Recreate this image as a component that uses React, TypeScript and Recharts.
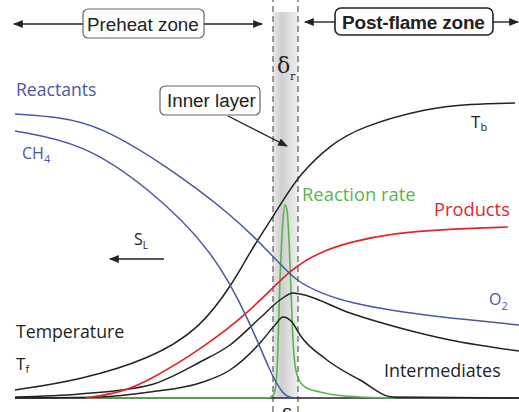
import React from 'react';
import { ComposedChart, Line, XAxis, YAxis, ReferenceArea, ReferenceLine } from 'recharts';

// x: distance through the flame, y: height above the baseline (both in chart units)
const reactants = [
  { x: 15, y: 298 }, { x: 60, y: 295 }, { x: 100, y: 286 }, { x: 167, y: 246 },
  { x: 233, y: 196 }, { x: 262, y: 167 }, { x: 285, y: 143 },
  { x: 297, y: 131 }, { x: 320, y: 119 }, { x: 350, y: 109 }, { x: 400, y: 100 },
  { x: 450, y: 94 }, { x: 519, y: 87 },
];
const ch4 = [
  { x: 15, y: 281 }, { x: 83, y: 269 }, { x: 150, y: 223 }, { x: 213, y: 162 },
  { x: 250, y: 90 }, { x: 270, y: 40 }, { x: 283, y: 17 }, { x: 292, y: 14 }, { x: 296, y: 14 },
];
const temperature = [
  { x: 15, y: 22 }, { x: 80, y: 32 }, { x: 150, y: 53 }, { x: 200, y: 83 },
  { x: 233, y: 129 }, { x: 250, y: 160 }, { x: 265, y: 183 }, { x: 282, y: 210 },
  { x: 300, y: 238 }, { x: 330, y: 267 }, { x: 360, y: 285 }, { x: 427, y: 304 },
  { x: 470, y: 308 }, { x: 515, y: 309 },
];
const products = [
  { x: 85, y: 14 }, { x: 120, y: 19 }, { x: 150, y: 32 }, { x: 200, y: 62 },
  { x: 250, y: 100 }, { x: 290, y: 143 }, { x: 320, y: 160 }, { x: 350, y: 170 },
  { x: 393, y: 179 }, { x: 450, y: 183 }, { x: 508, y: 185 },
];
const intermediateHigh = [
  { x: 15, y: 15 }, { x: 80, y: 18 }, { x: 150, y: 27 }, { x: 200, y: 50 },
  { x: 230, y: 67 }, { x: 260, y: 94 }, { x: 280, y: 112 }, { x: 293, y: 119 },
  { x: 300, y: 118 }, { x: 350, y: 99 }, { x: 400, y: 84 }, { x: 450, y: 72 },
  { x: 519, y: 61 },
];
const intermediateLow = [
  { x: 15, y: 14 }, { x: 100, y: 15 }, { x: 150, y: 20 }, { x: 200, y: 29 },
  { x: 230, y: 42 }, { x: 260, y: 69 }, { x: 275, y: 87 }, { x: 283, y: 95 },
  { x: 292, y: 90 }, { x: 300, y: 77 }, { x: 327, y: 52 }, { x: 360, y: 32 },
  { x: 393, y: 15 }, { x: 519, y: 14 },
];
const reactionRate = [
  { x: 87, y: 14 }, { x: 268, y: 14 }, { x: 274, y: 18 }, { x: 277, y: 42 },
  { x: 280, y: 132 }, { x: 283, y: 192 }, { x: 285, y: 207 }, { x: 287, y: 202 },
  { x: 289, y: 172 }, { x: 291, y: 122 }, { x: 293, y: 72 }, { x: 295, y: 47 },
  { x: 299, y: 32 }, { x: 305, y: 25 }, { x: 320, y: 20 }, { x: 345, y: 16 },
  { x: 395, y: 14 },
];

const innerLayer = { from: 273, to: 298 };

const BLUE = '#4b55a5';
const RED = '#e3262b';
const GREEN = '#55b64f';
const DARK = '#222';
const LABEL_FONT = '"Open Sans", sans-serif';
const BOX_FONT = '"Liberation Sans", Arial, sans-serif';

const Arrow = ({ x1, y1, x2, y2 }: { x1: number; y1: number; x2: number; y2: number }) => (
  <line x1={x1} y1={y1} x2={x2} y2={y2} stroke={DARK} strokeWidth={1.4} markerEnd="url(#arrowHead)" />
);

const Annotations = () => (
  <svg width={519} height={412} style={{ position: 'absolute', left: 0, top: 0, pointerEvents: 'none' }}>
    <defs>
      <marker id="arrowHead" viewBox="0 0 10 10" refX="9" refY="5" markerWidth="7" markerHeight="7" orient="auto">
        <path d="M0,1 L10,5 L0,9 Z" fill={DARK} />
      </marker>
    </defs>
    {/* zone headers */}
    <Arrow x1={83} y1={24} x2={14} y2={24} />
    <Arrow x1={203} y1={24} x2={262} y2={24} />
    <rect x={83} y={9} width={121} height={29} rx={5} fill="#fff" stroke="#666" strokeWidth={1.2} />
    <text x={87} y={31} fontFamily={BOX_FONT} fontSize={18.8} fill={DARK}>Preheat zone</text>

    <Arrow x1={336} y1={22} x2={305} y2={22} />
    <Arrow x1={493} y1={22} x2={518} y2={22} />
    <rect x={335} y={8} width={158} height={27} rx={6} fill="#fff" stroke={DARK} strokeWidth={1.6} />
    <text x={342} y={29} fontFamily={BOX_FONT} fontSize={19} fontWeight="bold" fill={DARK} letterSpacing={-0.2}>Post-flame zone</text>

    <text x={277} y={73} fontFamily="'DejaVu Serif', serif" fontSize={22} fill={DARK}>δ</text>
    <text x={290} y={80} fontFamily="'DejaVu Serif', serif" fontSize={11} fill={DARK}>r</text>

    <rect x={160} y={86} width={100} height={29} rx={5} fill="#fff" stroke="#666" strokeWidth={1.2} />
    <text x={167} y={107} fontFamily={BOX_FONT} fontSize={18.8} fill={DARK}>Inner layer</text>
    <Arrow x1={228} y1={116} x2={287} y2={146} />

    <text x={16} y={96} fontFamily={LABEL_FONT} fontSize={17.6} fill={BLUE}>Reactants</text>
    <text x={22} y={159} fontFamily={LABEL_FONT} fontSize={16} fill={BLUE}>CH<tspan fontSize={11} dy={4}>4</tspan></text>
    <text x={471} y={128} fontFamily={LABEL_FONT} fontSize={17} fill={DARK}>T<tspan fontSize={11} dy={3}>b</tspan></text>
    <text x={302} y={201} fontFamily={LABEL_FONT} fontSize={18.4} fill={GREEN}>Reaction rate</text>
    <text x={434} y={216} fontFamily={LABEL_FONT} fontSize={18.3} fill={RED}>Products</text>

    <text x={134} y={245} fontFamily={LABEL_FONT} fontSize={16} fill={DARK}>S<tspan fontSize={10} dy={4}>L</tspan></text>
    <Arrow x1={164} y1={259} x2={110} y2={259} />

    <text x={489} y={305} fontFamily={LABEL_FONT} fontSize={16} fill={BLUE}>O<tspan fontSize={11} dy={5}>2</tspan></text>
    <text x={16} y={338} fontFamily={LABEL_FONT} fontSize={17.7} fill={DARK}>Temperature</text>
    <text x={16} y={370} fontFamily={LABEL_FONT} fontSize={17} fill={DARK}>T<tspan fontSize={11} dy={3}>f</tspan></text>
    <text x={384} y={377} fontFamily={LABEL_FONT} fontSize={17.9} fill={DARK}>Intermediates</text>
    <text x={281} y={424} fontFamily="'DejaVu Serif', serif" fontSize={20} fill={DARK}>δ</text>
  </svg>
);

const curve = (
  data: { x: number; y: number }[],
  stroke: string,
  key: string,
  width = 1.5,
  type: 'monotone' | 'basis' = 'basis',
) => (
  <Line
    key={key}
    data={data}
    dataKey="y"
    type={type}
    stroke={stroke}
    strokeWidth={width}
    dot={false}
    activeDot={false}
    isAnimationActive={false}
  />
);

export default function App() {
  return (
    <div style={{ position: 'absolute', left: 0, top: 0, width: 519, height: 412, background: '#fff' }}>
      <ComposedChart width={519} height={412} margin={{ top: 0, right: 0, bottom: 0, left: 0 }}>
        <defs>
          <linearGradient id="bandFill" x1="0" y1="0" x2="1" y2="0">
            <stop offset="0%" stopColor="#e6e6e6" />
            <stop offset="35%" stopColor="#cfcfcf" />
            <stop offset="100%" stopColor="#efefef" />
          </linearGradient>
        </defs>
        <XAxis type="number" dataKey="x" domain={[0, 519]} hide allowDuplicatedCategory={false} />
        <YAxis type="number" domain={[0, 412]} hide />
        <ReferenceArea x1={innerLayer.from} x2={innerLayer.to} y1={14} y2={400} fill="url(#bandFill)" fillOpacity={1} stroke="none" />
        <ReferenceLine x={innerLayer.from} stroke="#666" strokeDasharray="6 4" strokeWidth={1.3} />
        <ReferenceLine x={innerLayer.to} stroke="#666" strokeDasharray="6 4" strokeWidth={1.3} />
        <ReferenceLine segment={[{ x: 15, y: 14 }, { x: 519, y: 14 }]} stroke={DARK} strokeWidth={1.6} />
        {curve(reactionRate, GREEN, 'rate', 1.6, 'monotone')}
        {curve(intermediateLow, DARK, 'intLow', 1.5, 'monotone')}
        {curve(intermediateHigh, DARK, 'intHigh', 1.5, 'monotone')}
        {curve(products, RED, 'products', 1.7)}
        {curve(temperature, DARK, 'temp')}
        {curve(ch4, BLUE, 'ch4')}
        {curve(reactants, BLUE, 'reactants')}
      </ComposedChart>
      <Annotations />
    </div>
  );
}
